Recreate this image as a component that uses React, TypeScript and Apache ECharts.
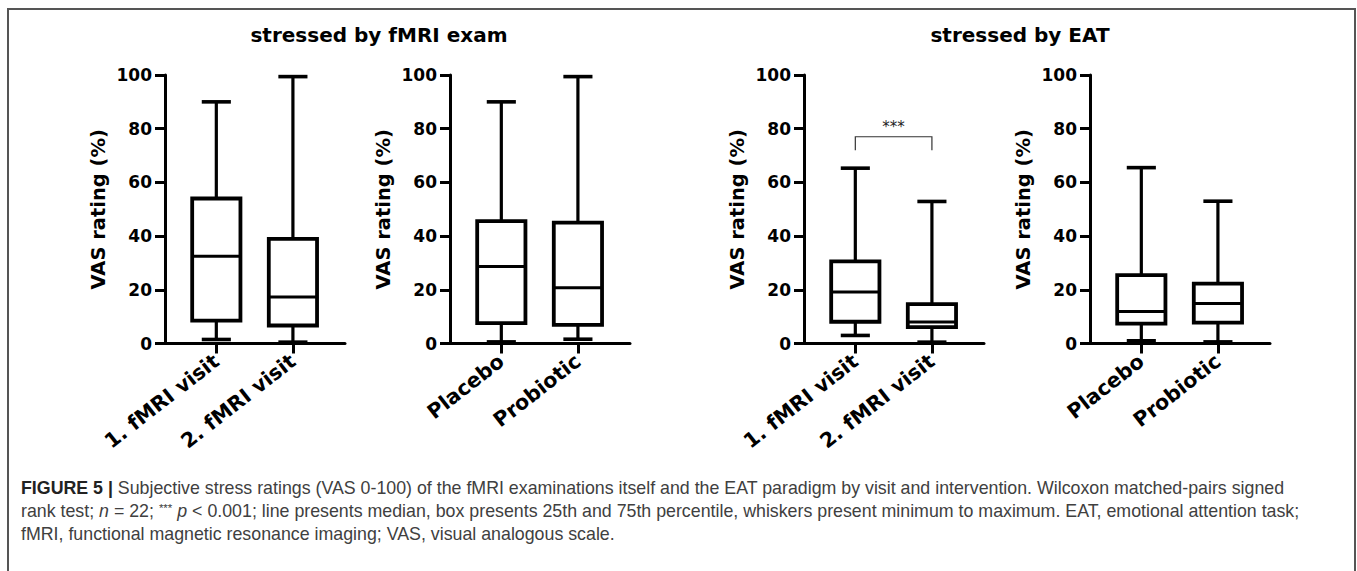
import React, { useEffect, useRef } from 'react';
import * as echarts from 'echarts';

// ---------- data ----------
const CATS_VISIT = ['1. fMRI visit', '2. fMRI visit'];
const CATS_GROUP = ['Placebo', 'Probiotic'];
// each: [min, Q1, median, Q3, max]
const FMRI_VISIT1 = [1.5, 8.5, 32.5, 54, 90];
const FMRI_VISIT2 = [0.5, 6.7, 17.3, 39, 99.4];
const FMRI_PLACEBO = [0.6, 7.6, 28.7, 45.6, 90];
const FMRI_PROBIOTIC = [1.6, 6.9, 20.8, 45, 99.4];
const EAT_VISIT1 = [3, 8.1, 19.2, 30.6, 65.3];
const EAT_VISIT2 = [0.5, 6.1, 8, 14.7, 52.9];
const EAT_PLACEBO = [1, 7.4, 11.9, 25.5, 65.5];
const EAT_PROBIOTIC = [0.6, 7.8, 14.9, 22.3, 53];
const SIG_X = [0, 1];
const SIG_Y = [72, 77];
const SIG_LABEL = '***';
const Y_MIN = 0;
const Y_MAX = 100;
const Y_INTERVAL = 20;
const Y_NAME = 'VAS rating (%)';
const TITLES = ['stressed by fMRI exam', 'stressed by EAT'];
const CAPTION_1 =
  '{b|FIGURE 5 |}{r| Subjective stress ratings (VAS 0-100) of the fMRI examinations itself and the EAT paradigm by visit and intervention. Wilcoxon matched-pairs signed}';
const CAPTION_2 =
  '{r|rank test; }{i|n}{r| = 22; }{s|***}{r| }{i|p}{r| < 0.001; line presents median, box presents 25th and 75th percentile, whiskers present minimum to maximum. EAT, emotional attention task;}';
const CAPTION_3 = '{r|fMRI, functional magnetic resonance imaging; VAS, visual analogous scale.}';

// ---------- layout / style ----------
const GRID_LEFTS = [165, 450, 804, 1090];
const GRID_W = 180;
const GRID_TOP = 75;
const GRID_H = 268.5;
const X_MIN = -0.67;
const X_MAX = 1.68;
const BOX_HALF = 0.315;
const CAP_HALF = 0.19;
const FONT = '"DejaVu Sans", sans-serif';
const CAP_FONT = '"Liberation Sans", Arial, sans-serif';
const CAP_SIZE = 17.8;

function renderBox(params: any, api: any) {
  const x = api.value(0);
  const mn = api.value(1);
  const q1 = api.value(2);
  const md = api.value(3);
  const q3 = api.value(4);
  const mx = api.value(5);
  const c = (a: number, b: number) => api.coord([a, b]);
  const ln = (p1: number[], p2: number[], w: number) => ({
    type: 'line',
    shape: { x1: p1[0], y1: p1[1], x2: p2[0], y2: p2[1] },
    style: { stroke: '#000', lineWidth: w, lineCap: 'butt' },
  });
  const tl = c(x - BOX_HALF, q3);
  const br = c(x + BOX_HALF, q1);
  return {
    type: 'group',
    children: [
      ln(c(x, q3), c(x, mx), 3.2),
      ln(c(x, q1), c(x, mn), 3.2),
      {
        type: 'rect',
        shape: { x: tl[0], y: tl[1], width: br[0] - tl[0], height: br[1] - tl[1] },
        style: { fill: '#fff', stroke: '#000', lineWidth: 3.8 },
      },
      ln(c(x - BOX_HALF, md), c(x + BOX_HALF, md), 3),
      ln(c(x - CAP_HALF, mx), c(x + CAP_HALF, mx), 3.6),
      ln(c(x - CAP_HALF, mn), c(x + CAP_HALF, mn), 3.6),
    ],
  };
}

function renderBracket(params: any, api: any) {
  const x1 = api.value(0);
  const x2 = api.value(1);
  const y1 = api.value(2);
  const y2 = api.value(3);
  const a = api.coord([x1, y1]);
  const b = api.coord([x1, y2]);
  const cc = api.coord([x2, y2]);
  const d = api.coord([x2, y1]);
  return {
    type: 'group',
    children: [
      {
        type: 'polyline',
        shape: { points: [a, b, cc, d] },
        style: { stroke: '#333', lineWidth: 1.2, fill: 'none' },
      },
      {
        type: 'text',
        x: (b[0] + cc[0]) / 2,
        y: b[1] - 2,
        style: {
          text: SIG_LABEL,
          align: 'center',
          verticalAlign: 'bottom',
          textAlign: 'center',
          textVerticalAlign: 'bottom',
          fill: '#222',
          fontSize: 15,
          fontFamily: FONT,
        },
      },
    ],
  };
}

const PANELS = [
  { cats: CATS_VISIT, data: [FMRI_VISIT1, FMRI_VISIT2] },
  { cats: CATS_GROUP, data: [FMRI_PLACEBO, FMRI_PROBIOTIC] },
  { cats: CATS_VISIT, data: [EAT_VISIT1, EAT_VISIT2] },
  { cats: CATS_GROUP, data: [EAT_PLACEBO, EAT_PROBIOTIC] },
];

function buildOption() {
  const axisLineStyle = { color: '#000', width: 3 };
  const grid = GRID_LEFTS.map((l) => ({ left: l, top: GRID_TOP, width: GRID_W, height: GRID_H }));
  const xAxis = PANELS.map((p, i) => ({
    type: 'value',
    gridIndex: i,
    min: X_MIN,
    max: X_MAX,
    splitLine: { show: false },
    axisLine: { show: true, onZero: false, lineStyle: axisLineStyle },
    axisTick: { show: true, length: 10, lineStyle: axisLineStyle, customValues: [0, 1] },
    axisLabel: {
      show: true,
      customValues: [0, 1],
      rotate: 38,
      margin: 15,
      formatter: (v: number) => p.cats[Math.round(v)] ?? '',
      color: '#000',
      fontWeight: 'bold',
      fontSize: 20.5,
      fontFamily: FONT,
    },
  }));
  const yAxis = PANELS.map((p, i) => ({
    type: 'value',
    gridIndex: i,
    min: Y_MIN,
    max: Y_MAX,
    interval: Y_INTERVAL,
    splitLine: { show: false },
    axisLine: { show: true, onZero: false, lineStyle: axisLineStyle },
    axisTick: { show: true, length: 10, lineStyle: axisLineStyle },
    axisLabel: { margin: 13, color: '#000', fontWeight: 'bold', fontSize: 17, fontFamily: FONT },
    name: Y_NAME,
    nameLocation: 'middle',
    nameGap: 57,
    nameTextStyle: { color: '#000', fontWeight: 'bold', fontSize: 19.5, fontFamily: FONT },
  }));
  const series: any[] = PANELS.map((p, i) => ({
    type: 'custom',
    xAxisIndex: i,
    yAxisIndex: i,
    renderItem: renderBox,
    encode: { x: 0, y: [1, 2, 3, 4, 5] },
    data: p.data.map((d, k) => [k, ...d]),
    z: 5,
  }));
  series.push({
    type: 'custom',
    xAxisIndex: 2,
    yAxisIndex: 2,
    renderItem: renderBracket,
    encode: { x: [0, 1], y: [2, 3] },
    data: [[SIG_X[0], SIG_X[1], SIG_Y[0], SIG_Y[1]]],
    z: 6,
  });

  const capRich = {
    r: { fontSize: CAP_SIZE, fontFamily: CAP_FONT, fill: '#404040', color: '#404040' },
    b: { fontSize: CAP_SIZE, fontFamily: CAP_FONT, fontWeight: 'bold', fill: '#222', color: '#222' },
    i: { fontSize: CAP_SIZE, fontFamily: CAP_FONT, fontStyle: 'italic', fill: '#404040', color: '#404040' },
    s: { fontSize: 11.5, fontFamily: CAP_FONT, fill: '#404040', color: '#404040', verticalAlign: 'top' },
  };
  const capText = (t: string, y: number) => ({
    type: 'text',
    left: 21,
    top: y,
    style: { text: t, rich: capRich, fontSize: CAP_SIZE, fontFamily: CAP_FONT, fill: '#404040' },
  });

  const graphic = [
    {
      type: 'rect',
      shape: { x: 8, y: 9, width: 1347, height: 700 },
      style: { fill: 'none', stroke: '#555', lineWidth: 2 },
      silent: true,
      z: -1,
    },
    {
      type: 'text',
      x: 379,
      y: 35,
      style: {
        text: TITLES[0],
        align: 'center',
        verticalAlign: 'middle',
        fill: '#000',
        fontWeight: 'bold',
        fontSize: 20,
        fontFamily: FONT,
      },
    },
    {
      type: 'text',
      x: 1020,
      y: 35,
      style: {
        text: TITLES[1],
        align: 'center',
        verticalAlign: 'middle',
        fill: '#000',
        fontWeight: 'bold',
        fontSize: 20,
        fontFamily: FONT,
      },
    },
    capText(CAPTION_1, 479),
    capText(CAPTION_2, 502),
    capText(CAPTION_3, 525),
  ];

  return {
    animation: false,
    backgroundColor: '#fff',
    grid,
    xAxis,
    yAxis,
    series,
    graphic,
  };
}

export default function App() {
  const ref = useRef<HTMLDivElement>(null);
  useEffect(() => {
    if (!ref.current) return;
    const chart = echarts.init(ref.current, undefined, { renderer: 'svg' });
    chart.setOption(buildOption() as any);
    return () => chart.dispose();
  }, []);
  return (
    <div
      ref={ref}
      style={{ position: 'fixed', left: 0, top: 0, width: 1357, height: 571, background: '#fff' }}
    />
  );
}
